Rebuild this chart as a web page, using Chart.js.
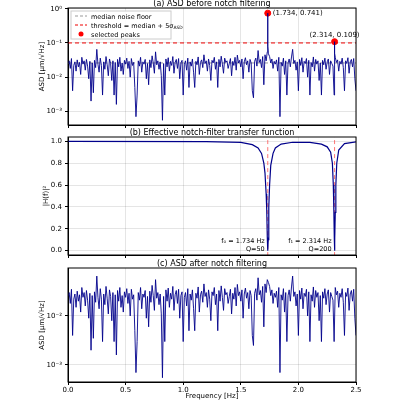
<!DOCTYPE html>
<html><head><meta charset="utf-8">
<script src="https://cdn.jsdelivr.net/npm/chart.js@4"></script>
<style>
body{margin:0;background:#fff;width:400px;height:400px;overflow:hidden;position:relative;font-family:"DejaVu Sans",sans-serif}
canvas{position:absolute;left:0}
</style></head><body>
<canvas id="ca" style="top:-5px" width="400" height="140"></canvas>
<canvas id="cb" style="top:124px" width="400" height="141"></canvas>
<canvas id="cc" style="top:254px" width="400" height="146"></canvas>
<script>
// noise floor, ASD in units of 1e-3 um/sqrt(Hz), one value per 0.01 Hz from 0 to 2.5
const noiseMilli = [
25,30,18,35,4,22,28,15,32,20,
27,12,38,24,30,16,33,21,9,29,
2,26,3.5,31,19,65,24,14,36,22,
3,28,17,40,23,11,34,25,8,30,
3,27,1.6,33,20,38,15,26,12,31,
24,36,18,29,10,35,22,27,5,0.7,
3,30,21,38,14,28,24,33,9,25,
6,32,19,42,26,13,55,23,30,17,
28,11,0.55,25,3,34,20,37,15,29,
22,40,13,27,33,18,35,9,26,31,
3,24,30,16,36,5,28,21,34,14,
5,29,23,39,12,27,32,19,45,25,
30,15,34,22,8,31,26,38,17,28,
5,33,20,41,24,13,36,27,30,18,
25,35,11,29,22,38,16,44,26,31,
20,34,9,28,37,23,30,14,33,26,
4,2.5,29,36,21,60,27,33,19,40,
6,45,30,55,48,40,26,34,18,29,
24,32,15,38,0.7,27,21,36,12,30,
3,26,34,20,39,65,25,31,16,28,
4,33,22,37,14,29,25,35,10,31,
3,27,20,39,15,33,24,30,8,26,
3,31,23,36,17,28,34,12,30,25,
21,3,38,27,32,15,29,24,36,19,
4,30,25,37,13,28,33,20,35,9,
4];
const peakX = [1.733, 1.734, 1.735, 2.313, 2.314, 2.315];
const peakY = [0.09, 0.741, 0.08, 0.05, 0.109, 0.05];
const medianFloor = 0.026;
const threshold = 0.1;
const selX = [1.734, 2.314];
const selY = [0.741, 0.109];
// notch-filter transfer function |H(f)|^2
const hX = [0,1.2,1.5,1.6,1.65,1.68,1.70,1.71,1.72,1.725,1.73,1.734,1.738,1.743,1.75,1.76,1.78,1.80,1.85,1.95,2.1,2.2,2.25,2.28,2.295,2.303,2.308,2.312,2.314,2.316,2.320,2.325,2.333,2.35,2.4,2.5];
const hY = [1,0.998,0.99,0.97,0.94,0.89,0.80,0.71,0.52,0.38,0.12,0,0.10,0.40,0.60,0.78,0.89,0.94,0.975,0.992,0.99,0.975,0.95,0.90,0.80,0.60,0.35,0.10,0,0.10,0.35,0.60,0.80,0.92,0.98,0.995];
const notchF = [1.734, 2.314];
const notchQ = [50, 200];
const logTicks = [1e-3, 1e-2, 1e-1, 1];
const logLabels = {'-3':'10⁻³','-2':'10⁻²','-1':'10⁻¹','0':'10⁰'};

const noise = noiseMilli.map((v, i) => ({x: +(i * 0.01).toFixed(2), y: v / 1000}));
const before = noise.concat(peakX.map((x, i) => ({x, y: peakY[i]}))).sort((a, b) => a.x - b.x);
const navy = '#00008b';
const font = {family: '"DejaVu Sans"', size: 7};
const grid = {color: 'rgba(0,0,0,0.1)', tickColor: '#000', tickLength: 3};

function xScale(showLabels, h) {
  return {type: 'linear', min: 0, max: 2.5,
    ticks: {stepSize: 0.5, display: showLabels, font, color: '#000', padding: 1, callback: v => v.toFixed(1)},
    grid, border: {color: '#000'},
    title: {display: showLabels, text: 'Frequency [Hz]', font, padding: 0, color: '#000'},
    afterFit: s => { s.height = h; }};
}
function logY(min, max, title) {
  return {type: 'logarithmic', min, max,
    afterBuildTicks: s => { s.ticks = logTicks.filter(t => t >= min && t <= max).map(v => ({value: v})); },
    ticks: {font, color: '#000', callback: v => logLabels[Math.round(Math.log10(v))]},
    grid, border: {color: '#000'},
    title: {display: true, text: title, font, padding: 2, color: '#000'},
    afterFit: s => { s.width = 32; }};
}
const frame = {id: 'frame', afterDraw(c, a, o) {
  const g = c.ctx, ca = c.chartArea;
  g.save();
  g.strokeStyle = '#000'; g.lineWidth = 1;
  g.strokeRect(ca.left, ca.top, ca.right - ca.left, ca.bottom - ca.top);
  g.fillStyle = '#000'; g.font = '8px "DejaVu Sans"'; g.textAlign = 'center';
  g.fillText(o.title, (ca.left + ca.right) / 2, ca.top - 2);
  if (o.extra) o.extra(c, g);
  g.restore();
}};
const base = (pad, left, title, extra) => ({
  responsive: false, animation: false,
  layout: {padding: {top: pad, right: 44, left, bottom: 0}},
  plugins: {legend: {display: false}, tooltip: {enabled: false}, frame: {title, extra}}
});

new Chart(document.getElementById('ca'), {
  type: 'line',
  data: {datasets: [
    {data: before, borderColor: navy, borderWidth: 0.9, pointRadius: 0},
    {data: [{x: 0, y: medianFloor}, {x: 2.5, y: medianFloor}], borderColor: '#999', borderDash: [4, 3], borderWidth: 1, pointRadius: 0},
    {data: [{x: 0, y: threshold}, {x: 2.5, y: threshold}], borderColor: '#e00', borderDash: [4, 3], borderWidth: 1, pointRadius: 0},
    {data: selX.map((x, i) => ({x, y: selY[i]})), showLine: false, pointRadius: 3, pointBackgroundColor: '#f00', pointBorderColor: '#f00'}
  ]},
  options: Object.assign(base(13, 36, '(a) ASD before notch filtering', (c, g) => {
    const xs = c.scales.x, ys = c.scales.y;
    g.font = '7px "DejaVu Sans"'; g.textAlign = 'left';
    g.fillText('(1.734, 0.741)', xs.getPixelForValue(1.734) + 5, ys.getPixelForValue(0.741) + 2);
    g.textAlign = 'center';
    g.fillText('(2.314, 0.109)', xs.getPixelForValue(2.314), ys.getPixelForValue(0.109) - 5);
    // legend
    const lx = 71, ly = c.chartArea.top + 3;
    g.fillStyle = 'rgba(255,255,255,0.85)'; g.strokeStyle = '#ccc';
    g.fillRect(lx, ly, 100, 28); g.strokeRect(lx, ly, 100, 28);
    g.lineWidth = 1; g.setLineDash([3, 2]);
    g.strokeStyle = '#999'; g.beginPath(); g.moveTo(lx + 4, ly + 5); g.lineTo(lx + 16, ly + 5); g.stroke();
    g.strokeStyle = '#e00'; g.beginPath(); g.moveTo(lx + 4, ly + 14); g.lineTo(lx + 16, ly + 14); g.stroke();
    g.setLineDash([]);
    g.fillStyle = '#f00'; g.beginPath(); g.arc(lx + 10, ly + 23, 2.5, 0, 7); g.fill();
    g.fillStyle = '#000'; g.textAlign = 'left'; g.font = '6.5px "DejaVu Sans"';
    g.fillText('median noise floor', lx + 20, ly + 7.5);
    const t = 'threshold = median + 5σ';
    g.fillText(t, lx + 20, ly + 16.5);
    const w = g.measureText(t).width;
    g.fillText('selected peaks', lx + 20, ly + 25.5);
    g.font = '4.5px "DejaVu Sans"'; g.fillText('ASD', lx + 20 + w, ly + 18);
  }), {scales: {x: xScale(false, 10), y: logY(4e-4, 1.05, 'ASD [μm/√Hz]')}}),
  plugins: [frame]
});

new Chart(document.getElementById('cb'), {
  type: 'line',
  data: {datasets: [
    {data: hX.map((x, i) => ({x, y: hY[i]})), borderColor: navy, borderWidth: 1.2, pointRadius: 0},
    ...notchF.map(f => ({data: [{x: f, y: -0.05}, {x: f, y: 1.05}], borderColor: 'rgba(255,60,60,0.7)', borderDash: [4, 3], borderWidth: 1, pointRadius: 0}))
  ]},
  options: Object.assign(base(13, 36, '(b) Effective notch-filter transfer function', (c, g) => {
    const xs = c.scales.x, ys = c.scales.y;
    g.font = '6.5px "DejaVu Sans"'; g.textAlign = 'right';
    notchF.forEach((f, i) => {
      const px = xs.getPixelForValue(f) - 3;
      g.fillText('f' + ['₀', '₁'][i] + ' = ' + f.toFixed(3) + ' Hz', px, ys.getPixelForValue(0.07));
      g.fillText('Q=' + notchQ[i], px, ys.getPixelForValue(0.0));
    });
  }), {scales: {x: xScale(false, 10), y: {min: -0.04, max: 1.04,
    afterBuildTicks: s => { s.ticks = [0, 0.2, 0.4, 0.6, 0.8, 1].map(v => ({value: v})); },
    ticks: {font, color: '#000', callback: v => v.toFixed(1)}, grid, border: {color: '#000'},
    title: {display: true, text: '|H(f)|²', font, padding: 6, color: '#000'},
    afterFit: s => { s.width = 32; }}}}),
  plugins: [frame]
});

new Chart(document.getElementById('cc'), {
  type: 'line',
  data: {datasets: [{data: noise, borderColor: navy, borderWidth: 0.9, pointRadius: 0}]},
  options: Object.assign(base(14, 36, '(c) ASD after notch filtering'),
    {scales: {x: xScale(true, 18), y: logY(4.5e-4, 0.095, 'ASD [μm/√Hz]')}}),
  plugins: [frame]
});
</script>
</body></html>
